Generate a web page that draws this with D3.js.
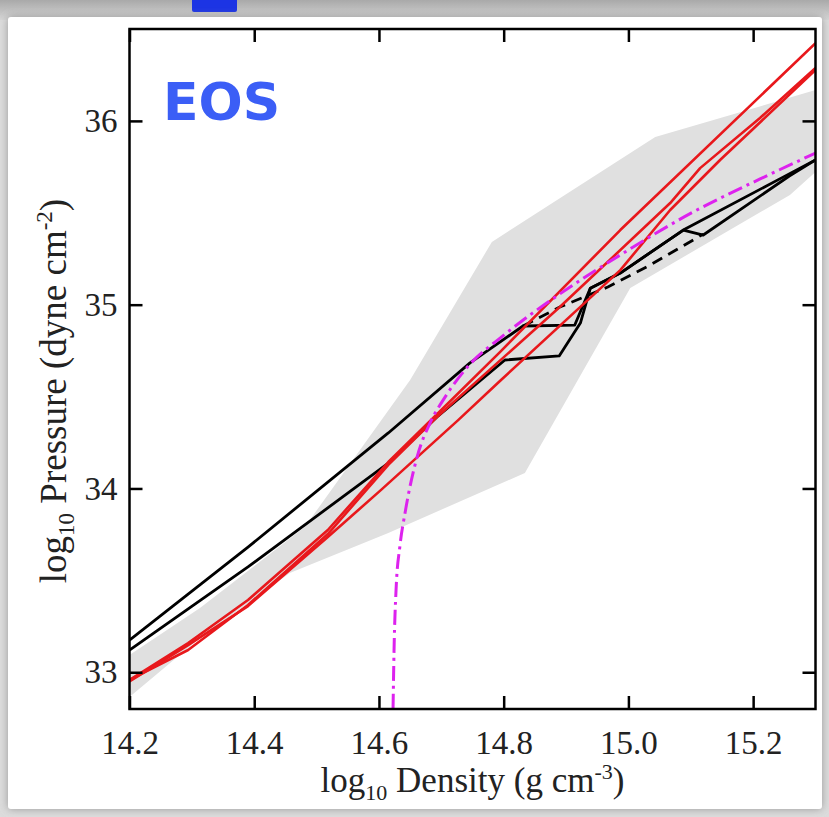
<!DOCTYPE html>
<html lang="en">
<head>
<meta charset="UTF-8">
<title>EOS pressure vs density</title>
<style>
  body { margin: 0; background: #fff; }
  .axis .tick line { stroke: #000; stroke-width: 2.5; }
  .axis .tick text { font-family: "Liberation Serif", "Times New Roman", serif; font-size: 33px; fill: #222; }
  .title { font-family: "Liberation Serif", "Times New Roman", serif; font-size: 35px; fill: #222; white-space: pre; }
</style>
</head>
<body>
<div id="chart"></div>
<script src="https://d3js.org/d3.v7.min.js"></script>
<script>
const xTicks = [14.2, 14.4, 14.6, 14.8, 15.0, 15.2];
const yTicks = [33, 34, 35, 36];

// grey band: upper edge left -> right, lower edge right -> left
const bandUpperX = [14.20, 14.313, 14.481, 14.65, 14.781, 15.043, 15.30];
const bandUpperY = [33.094, 33.35, 33.79, 34.59, 35.341, 35.912, 36.168];
const bandLowerX = [15.30, 15.259, 15.003, 14.834, 14.615, 14.457, 14.313, 14.20];
const bandLowerY = [35.722, 35.597, 35.091, 34.084, 33.758, 33.54, 33.186, 32.865];

// black solid curves
const blackAX = [14.20, 14.39, 14.615, 14.746, 14.831, 14.914, 14.939, 14.987, 15.088, 15.248, 15.30];
const blackAY = [33.175, 33.681, 34.302, 34.683, 34.884, 34.889, 35.09, 35.172, 35.406, 35.694, 35.787];
const blackBX = [14.20, 14.39, 14.615, 14.693, 14.802, 14.889, 14.923, 14.939, 14.987, 15.088, 15.12, 15.258, 15.30];
const blackBY = [33.121, 33.573, 34.138, 34.389, 34.699, 34.721, 34.90, 35.09, 35.172, 35.406, 35.379, 35.70, 35.787];

// black dashed curve
const dashedX = [14.831, 14.89, 14.967, 15.035, 15.12];
const dashedY = [34.884, 34.987, 35.096, 35.216, 35.384];

// red curves
const red1X = [14.20, 14.294, 14.39, 14.518, 14.615, 14.682, 14.794, 14.987, 15.30];
const red1Y = [32.958, 33.159, 33.393, 33.774, 34.144, 34.367, 34.742, 35.406, 36.423];
const red2X = [14.20, 14.294, 14.39, 14.518, 14.615, 14.693, 14.89, 15.067, 15.115, 15.211, 15.30];
const red2Y = [32.958, 33.121, 33.366, 33.752, 34.128, 34.389, 34.987, 35.553, 35.743, 36.016, 36.288];
const red3X = [14.20, 14.294, 14.39, 14.518, 14.603, 14.727, 14.794, 14.987, 15.067, 15.147, 15.30];
const red3Y = [32.95, 33.148, 33.36, 33.736, 33.991, 34.372, 34.585, 35.188, 35.515, 35.787, 36.277];

// magenta dash-dot curve
const magX = [14.6226, 14.6242, 14.6274, 14.6338, 14.6418, 14.6611, 14.6819, 14.706, 14.7461, 14.7942, 14.8423, 14.9065, 14.9867, 15.1037, 15.2112, 15.30];
const magY = [32.80, 33.121, 33.447, 33.692, 33.866, 34.171, 34.356, 34.497, 34.677, 34.818, 34.944, 35.096, 35.270, 35.504, 35.684, 35.825];

const W = 829, H = 817;
const plot = {left: 129.5, right: 815.5, top: 29, bottom: 709};

const svg = d3.select("#chart").append("svg")
  .attr("width", W)
  .attr("height", H);

const defs = svg.append("defs");
const topGrad = defs.append("linearGradient").attr("id", "topGrad")
  .attr("x1", 0).attr("y1", 0).attr("x2", 0).attr("y2", 1);
topGrad.append("stop").attr("offset", "0%").attr("stop-color", "#a9a9a9");
topGrad.append("stop").attr("offset", "100%").attr("stop-color", "#d6d6d6");
const shadow = defs.append("filter").attr("id", "shadow")
  .attr("x", "-5%").attr("y", "-5%").attr("width", "110%").attr("height", "110%");
shadow.append("feDropShadow").attr("dx", 0).attr("dy", 0)
  .attr("stdDeviation", 4).attr("flood-color", "#888").attr("flood-opacity", 0.8);
defs.append("clipPath").attr("id", "plotClip").append("rect")
  .attr("x", plot.left).attr("y", plot.top)
  .attr("width", plot.right - plot.left).attr("height", plot.bottom - plot.top);

// slide-like background
svg.append("rect").attr("width", W).attr("height", H).attr("fill", "#dcdcdc");
svg.append("rect").attr("width", W).attr("height", 20).attr("fill", "url(#topGrad)");
svg.append("rect").attr("x", 192).attr("y", -4).attr("width", 45).attr("height", 16)
  .attr("rx", 2).attr("fill", "#1c34e4");
svg.append("rect")
  .attr("x", 8).attr("y", 17).attr("width", 814).attr("height", 792)
  .attr("rx", 3).attr("fill", "#fff").attr("filter", "url(#shadow)");

const x = d3.scaleLinear().domain([14.2, 15.3]).range([plot.left, plot.right]);
const y = d3.scaleLinear().domain([32.8, 36.5]).range([plot.bottom, plot.top]);

const g = svg.append("g").attr("clip-path", "url(#plotClip)");

// band
const bandPts = bandUpperX.map((d, i) => [x(d), y(bandUpperY[i])])
  .concat(bandLowerX.map((d, i) => [x(d), y(bandLowerY[i])]));
g.append("path")
  .attr("d", "M" + bandPts.join("L") + "Z")
  .attr("fill", "#e0e0e0");

function drawLine(xs, ys, color, width, dash, curve) {
  const line = d3.line()
    .x(d => x(d[0]))
    .y(d => y(d[1]))
    .curve(curve || d3.curveLinear);
  g.append("path")
    .datum(xs.map((d, i) => [d, ys[i]]))
    .attr("d", line)
    .attr("fill", "none")
    .attr("stroke", color)
    .attr("stroke-width", width)
    .attr("stroke-linejoin", "round")
    .attr("stroke-dasharray", dash || null);
}

drawLine(blackAX, blackAY, "#000", 2.8);
drawLine(blackBX, blackBY, "#000", 2.8);
drawLine(dashedX, dashedY, "#000", 2.8, "11,7");
drawLine(red1X, red1Y, "#e8181c", 2.6);
drawLine(red2X, red2Y, "#e8181c", 2.6);
drawLine(red3X, red3Y, "#e8181c", 2.6);
drawLine(magX, magY, "#dd22ee", 3, "15,5,3,5", d3.curveMonotoneX);

// axes with inward ticks on all four sides
svg.append("g").attr("class", "axis")
  .attr("transform", `translate(0,${plot.bottom})`)
  .call(d3.axisBottom(x).tickValues(xTicks).tickFormat(d3.format(".1f"))
    .tickSizeInner(-13).tickSizeOuter(0).tickPadding(22))
  .call(a => a.select(".domain").remove());
svg.append("g").attr("class", "axis")
  .attr("transform", `translate(0,${plot.top})`)
  .call(d3.axisTop(x).tickValues(xTicks).tickFormat("")
    .tickSizeInner(-13).tickSizeOuter(0))
  .call(a => a.select(".domain").remove());
svg.append("g").attr("class", "axis")
  .attr("transform", `translate(${plot.left},0)`)
  .call(d3.axisLeft(y).tickValues(yTicks).tickFormat(d3.format("d"))
    .tickSizeInner(-13).tickSizeOuter(0).tickPadding(12))
  .call(a => a.select(".domain").remove());
svg.append("g").attr("class", "axis")
  .attr("transform", `translate(${plot.right},0)`)
  .call(d3.axisRight(y).tickValues(yTicks).tickFormat("")
    .tickSizeInner(-13).tickSizeOuter(0))
  .call(a => a.select(".domain").remove());

// frame
svg.append("rect")
  .attr("x", plot.left).attr("y", plot.top)
  .attr("width", plot.right - plot.left).attr("height", plot.bottom - plot.top)
  .attr("fill", "none").attr("stroke", "#000").attr("stroke-width", 2.5);

// axis titles
const xt = svg.append("text").attr("class", "title")
  .attr("x", (plot.left + plot.right) / 2).attr("y", 792)
  .attr("text-anchor", "middle");
xt.append("tspan").text("log");
xt.append("tspan").attr("dy", 8).style("font-size", "22px").text("10");
xt.append("tspan").attr("dy", -8).text(" Density (g cm");
xt.append("tspan").attr("dy", -13).style("font-size", "22px").text("-3");
xt.append("tspan").attr("dy", 13).text(")");

const yt = svg.append("text").attr("class", "title")
  .attr("transform", "translate(66,391) rotate(-90)")
  .attr("text-anchor", "middle")
  .style("font-size", "37px");
yt.append("tspan").text("log");
yt.append("tspan").attr("dy", 8).style("font-size", "23px").text("10");
yt.append("tspan").attr("dy", -8).text(" Pressure (dyne cm");
yt.append("tspan").attr("dy", -14).style("font-size", "23px").text("-2");
yt.append("tspan").attr("dy", 14).text(")");

// label
svg.append("text")
  .attr("x", 163).attr("y", 120)
  .style("font-family", "'DejaVu Sans', Verdana, sans-serif")
  .style("font-weight", "bold")
  .style("font-size", "52px")
  .attr("fill", "#3b5ef6")
  .text("EOS");
</script>
</body>
</html>
